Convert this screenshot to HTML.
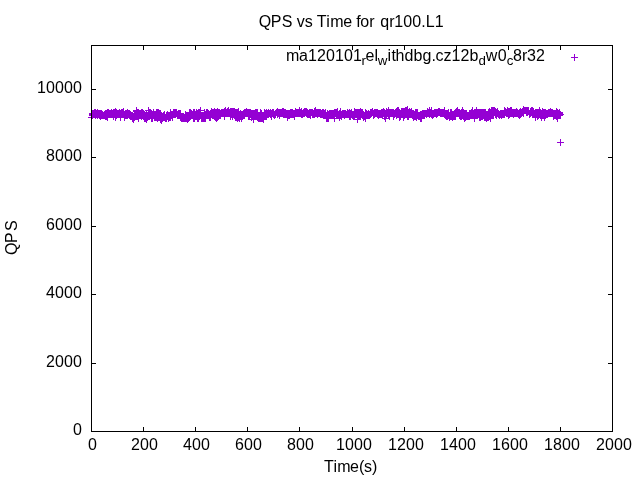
<!DOCTYPE html>
<html lang="en"><head><meta charset="utf-8"><title>QPS vs Time for qr100.L1</title>
<style>
html,body{margin:0;padding:0;background:#fff;}
body{width:640px;height:480px;overflow:hidden;}
svg{display:block;}
text{font-family:"Liberation Sans",Arial,sans-serif;font-size:16px;fill:#000;}
.sub{font-size:13.3px;}
</style></head><body>
<svg width="640" height="480" viewBox="0 0 640 480">
<rect width="640" height="480" fill="#fff"/>
<g>
<text x="73" y="435">0</text>
<text x="46 55 64 73" y="367">2000</text>
<text x="46 55 64 73" y="298">4000</text>
<text x="46 55 64 73" y="230">6000</text>
<text x="46 55 64 73" y="161">8000</text>
<text x="37 46 55 64 73" y="93">10000</text>
<text x="88" y="450">0</text>
<text x="131 140 149" y="450">200</text>
<text x="183 192 201" y="450">400</text>
<text x="235 244 253" y="450">600</text>
<text x="287 296 305" y="450">800</text>
<text x="336 345 354 363" y="450">1000</text>
<text x="388 397 406 415" y="450">1200</text>
<text x="440 449 458 467" y="450">1400</text>
<text x="492 501 510 519" y="450">1600</text>
<text x="544 553 562 571" y="450">1800</text>
<text x="596 605 614 623" y="450">2000</text>
<text x="258.75 270.75 281.75 292.75 296.75 304.75 312.75 316.75 326.15 330.15 343.15 352.15 356.15 360.15 369.15 374.75 380.25 389.25 394.25 403.25 412.25 421.25 425.75 434.75" y="27">QPS vs Time for qr100.L1</text>
<text x="324 333.55 337.3 350 359 364 371.9" y="472">Time(s)</text>
<text transform="translate(16.5,237.5) rotate(-90)" x="-17.5 -5.5 6.5" y="0">QPS</text>
</g>
<text><tspan x="286 299 308 317 326 335 344 353" y="61">ma120101</tspan><tspan class="sub" x="361.6" y="65.15">r</tspan><tspan x="365.6 374.6" y="61">el</tspan><tspan class="sub" x="377.8" y="65.15">w</tspan><tspan x="387.5 391.5 395.5 404.5 413.5 422.5 431.5 435.5 443.5 451.5 460.5 469.5" y="61">ithdbg.cz12b</tspan><tspan class="sub" x="478.6" y="65.15">d</tspan><tspan x="485.7 497.7" y="61">w0</tspan><tspan class="sub" x="506.7" y="65.15">c</tspan><tspan x="513 522 527 536" y="61">8r32</tspan></text>
<path d="M88,117.5h7M91.5,114v7M88,117.5h7M91.5,114v7M89,114.5h7M92.5,111v7M89,115.5h7M92.5,112v7M89,113.5h7M92.5,110v7M89,114.5h7M92.5,111v7M90,114.5h7M93.5,111v7M90,113.5h7M93.5,110v7M90,113.5h7M93.5,110v7M90,114.5h7M93.5,111v7M91,113.5h7M94.5,110v7M91,113.5h7M94.5,110v7M91,113.5h7M94.5,110v7M91,112.5h7M94.5,109v7M92,112.5h7M95.5,109v7M92,113.5h7M95.5,110v7M92,115.5h7M95.5,112v7M92,113.5h7M95.5,110v7M93,113.5h7M96.5,110v7M93,113.5h7M96.5,110v7M93,114.5h7M96.5,111v7M93,114.5h7M96.5,111v7M94,112.5h7M97.5,109v7M94,115.5h7M97.5,112v7M94,115.5h7M97.5,112v7M95,113.5h7M98.5,110v7M95,114.5h7M98.5,111v7M95,113.5h7M98.5,110v7M95,114.5h7M98.5,111v7M96,115.5h7M99.5,112v7M96,113.5h7M99.5,110v7M96,114.5h7M99.5,111v7M96,115.5h7M99.5,112v7M97,116.5h7M100.5,113v7M97,113.5h7M100.5,110v7M97,113.5h7M100.5,110v7M97,116.5h7M100.5,113v7M98,114.5h7M101.5,111v7M98,115.5h7M101.5,112v7M98,114.5h7M101.5,111v7M98,113.5h7M101.5,110v7M99,115.5h7M102.5,112v7M99,115.5h7M102.5,112v7M99,114.5h7M102.5,111v7M99,115.5h7M102.5,112v7M100,115.5h7M103.5,112v7M100,115.5h7M103.5,112v7M100,115.5h7M103.5,112v7M101,114.5h7M104.5,111v7M101,114.5h7M104.5,111v7M101,115.5h7M104.5,112v7M101,114.5h7M104.5,111v7M102,114.5h7M105.5,111v7M102,113.5h7M105.5,110v7M102,116.5h7M105.5,113v7M102,116.5h7M105.5,113v7M103,115.5h7M106.5,112v7M103,113.5h7M106.5,110v7M103,116.5h7M106.5,113v7M103,115.5h7M106.5,112v7M104,113.5h7M107.5,110v7M104,112.5h7M107.5,109v7M104,115.5h7M107.5,112v7M104,117.5h7M107.5,114v7M105,114.5h7M108.5,111v7M105,113.5h7M108.5,110v7M105,112.5h7M108.5,109v7M105,114.5h7M108.5,111v7M106,114.5h7M109.5,111v7M106,114.5h7M109.5,111v7M106,113.5h7M109.5,110v7M106,113.5h7M109.5,110v7M107,114.5h7M110.5,111v7M107,113.5h7M110.5,110v7M107,114.5h7M110.5,111v7M108,114.5h7M111.5,111v7M108,112.5h7M111.5,109v7M108,113.5h7M111.5,110v7M108,112.5h7M111.5,109v7M109,114.5h7M112.5,111v7M109,113.5h7M112.5,110v7M109,114.5h7M112.5,111v7M109,114.5h7M112.5,111v7M110,112.5h7M113.5,109v7M110,112.5h7M113.5,109v7M110,116.5h7M113.5,113v7M110,115.5h7M113.5,112v7M111,113.5h7M114.5,110v7M111,112.5h7M114.5,109v7M111,114.5h7M114.5,111v7M111,112.5h7M114.5,109v7M112,111.5h7M115.5,108v7M112,112.5h7M115.5,109v7M112,117.5h7M115.5,114v7M112,112.5h7M115.5,109v7M113,113.5h7M116.5,110v7M113,115.5h7M116.5,112v7M113,112.5h7M116.5,109v7M114,113.5h7M117.5,110v7M114,114.5h7M117.5,111v7M114,114.5h7M117.5,111v7M114,113.5h7M117.5,110v7M115,114.5h7M118.5,111v7M115,113.5h7M118.5,110v7M115,114.5h7M118.5,111v7M115,114.5h7M118.5,111v7M116,114.5h7M119.5,111v7M116,114.5h7M119.5,111v7M116,112.5h7M119.5,109v7M116,113.5h7M119.5,110v7M117,116.5h7M120.5,113v7M117,116.5h7M120.5,113v7M117,113.5h7M120.5,110v7M117,117.5h7M120.5,114v7M118,112.5h7M121.5,109v7M118,113.5h7M121.5,110v7M118,112.5h7M121.5,109v7M118,112.5h7M121.5,109v7M119,114.5h7M122.5,111v7M119,112.5h7M122.5,109v7M119,113.5h7M122.5,110v7M120,113.5h7M123.5,110v7M120,114.5h7M123.5,111v7M120,113.5h7M123.5,110v7M120,111.5h7M123.5,108v7M121,117.5h7M124.5,114v7M121,116.5h7M124.5,113v7M121,114.5h7M124.5,111v7M121,117.5h7M124.5,114v7M122,113.5h7M125.5,110v7M122,114.5h7M125.5,111v7M122,114.5h7M125.5,111v7M122,115.5h7M125.5,112v7M123,115.5h7M126.5,112v7M123,115.5h7M126.5,112v7M123,113.5h7M126.5,110v7M123,115.5h7M126.5,112v7M124,114.5h7M127.5,111v7M124,112.5h7M127.5,109v7M124,115.5h7M127.5,112v7M124,114.5h7M127.5,111v7M125,113.5h7M128.5,110v7M125,114.5h7M128.5,111v7M125,114.5h7M128.5,111v7M126,113.5h7M129.5,110v7M126,115.5h7M129.5,112v7M126,114.5h7M129.5,111v7M126,115.5h7M129.5,112v7M127,114.5h7M130.5,111v7M127,115.5h7M130.5,112v7M127,115.5h7M130.5,112v7M127,114.5h7M130.5,111v7M128,115.5h7M131.5,112v7M128,115.5h7M131.5,112v7M128,115.5h7M131.5,112v7M128,116.5h7M131.5,113v7M129,118.5h7M132.5,115v7M129,115.5h7M132.5,112v7M129,117.5h7M132.5,114v7M129,118.5h7M132.5,115v7M130,116.5h7M133.5,113v7M130,118.5h7M133.5,115v7M130,119.5h7M133.5,116v7M130,119.5h7M133.5,116v7M131,116.5h7M134.5,113v7M131,116.5h7M134.5,113v7M131,117.5h7M134.5,114v7M132,115.5h7M135.5,112v7M132,114.5h7M135.5,111v7M132,115.5h7M135.5,112v7M132,113.5h7M135.5,110v7M133,111.5h7M136.5,108v7M133,116.5h7M136.5,113v7M133,110.5h7M136.5,107v7M133,115.5h7M136.5,112v7M134,113.5h7M137.5,110v7M134,116.5h7M137.5,113v7M134,116.5h7M137.5,113v7M134,112.5h7M137.5,109v7M135,118.5h7M138.5,115v7M135,112.5h7M138.5,109v7M135,117.5h7M138.5,114v7M135,114.5h7M138.5,111v7M136,115.5h7M139.5,112v7M136,114.5h7M139.5,111v7M136,114.5h7M139.5,111v7M136,115.5h7M139.5,112v7M137,114.5h7M140.5,111v7M137,113.5h7M140.5,110v7M137,114.5h7M140.5,111v7M137,114.5h7M140.5,111v7M138,115.5h7M141.5,112v7M138,116.5h7M141.5,113v7M138,112.5h7M141.5,109v7M139,115.5h7M142.5,112v7M139,114.5h7M142.5,111v7M139,114.5h7M142.5,111v7M139,112.5h7M142.5,109v7M140,115.5h7M143.5,112v7M140,113.5h7M143.5,110v7M140,114.5h7M143.5,111v7M140,113.5h7M143.5,110v7M141,115.5h7M144.5,112v7M141,118.5h7M144.5,115v7M141,115.5h7M144.5,112v7M141,114.5h7M144.5,111v7M142,117.5h7M145.5,114v7M142,117.5h7M145.5,114v7M142,118.5h7M145.5,115v7M142,116.5h7M145.5,113v7M143,119.5h7M146.5,116v7M143,118.5h7M146.5,115v7M143,114.5h7M146.5,111v7M143,119.5h7M146.5,116v7M144,115.5h7M147.5,112v7M144,117.5h7M147.5,114v7M144,115.5h7M147.5,112v7M145,112.5h7M148.5,109v7M145,110.5h7M148.5,107v7M145,114.5h7M148.5,111v7M145,112.5h7M148.5,109v7M146,112.5h7M149.5,109v7M146,116.5h7M149.5,113v7M146,112.5h7M149.5,109v7M146,115.5h7M149.5,112v7M147,115.5h7M150.5,112v7M147,112.5h7M150.5,109v7M147,112.5h7M150.5,109v7M147,115.5h7M150.5,112v7M148,118.5h7M151.5,115v7M148,113.5h7M151.5,110v7M148,117.5h7M151.5,114v7M148,113.5h7M151.5,110v7M149,118.5h7M152.5,115v7M149,114.5h7M152.5,111v7M149,116.5h7M152.5,113v7M149,118.5h7M152.5,115v7M150,115.5h7M153.5,112v7M150,112.5h7M153.5,109v7M150,114.5h7M153.5,111v7M151,114.5h7M154.5,111v7M151,117.5h7M154.5,114v7M151,115.5h7M154.5,112v7M151,117.5h7M154.5,114v7M152,114.5h7M155.5,111v7M152,117.5h7M155.5,114v7M152,114.5h7M155.5,111v7M152,117.5h7M155.5,114v7M153,112.5h7M156.5,109v7M153,117.5h7M156.5,114v7M153,114.5h7M156.5,111v7M153,114.5h7M156.5,111v7M154,117.5h7M157.5,114v7M154,112.5h7M157.5,109v7M154,116.5h7M157.5,113v7M154,118.5h7M157.5,115v7M155,112.5h7M158.5,109v7M155,114.5h7M158.5,111v7M155,117.5h7M158.5,114v7M155,115.5h7M158.5,112v7M156,114.5h7M159.5,111v7M156,114.5h7M159.5,111v7M156,113.5h7M159.5,110v7M157,115.5h7M160.5,112v7M157,118.5h7M160.5,115v7M157,113.5h7M160.5,110v7M157,119.5h7M160.5,116v7M158,118.5h7M161.5,115v7M158,118.5h7M161.5,115v7M158,120.5h7M161.5,117v7M158,117.5h7M161.5,114v7M159,116.5h7M162.5,113v7M159,116.5h7M162.5,113v7M159,118.5h7M162.5,115v7M159,117.5h7M162.5,114v7M160,117.5h7M163.5,114v7M160,115.5h7M163.5,112v7M160,116.5h7M163.5,113v7M160,115.5h7M163.5,112v7M161,116.5h7M164.5,113v7M161,115.5h7M164.5,112v7M161,114.5h7M164.5,111v7M161,117.5h7M164.5,114v7M162,117.5h7M165.5,114v7M162,118.5h7M165.5,115v7M162,117.5h7M165.5,114v7M163,115.5h7M166.5,112v7M163,115.5h7M166.5,112v7M163,118.5h7M166.5,115v7M163,116.5h7M166.5,113v7M164,115.5h7M167.5,112v7M164,116.5h7M167.5,113v7M164,114.5h7M167.5,111v7M164,115.5h7M167.5,112v7M165,118.5h7M168.5,115v7M165,117.5h7M168.5,114v7M165,118.5h7M168.5,115v7M165,118.5h7M168.5,115v7M166,117.5h7M169.5,114v7M166,116.5h7M169.5,113v7M166,116.5h7M169.5,113v7M166,115.5h7M169.5,112v7M167,113.5h7M170.5,110v7M167,112.5h7M170.5,109v7M167,113.5h7M170.5,110v7M167,117.5h7M170.5,114v7M168,115.5h7M171.5,112v7M168,114.5h7M171.5,111v7M168,115.5h7M171.5,112v7M168,114.5h7M171.5,111v7M169,117.5h7M172.5,114v7M169,115.5h7M172.5,112v7M169,114.5h7M172.5,111v7M170,112.5h7M173.5,109v7M170,113.5h7M173.5,110v7M170,113.5h7M173.5,110v7M170,114.5h7M173.5,111v7M171,112.5h7M174.5,109v7M171,114.5h7M174.5,111v7M171,112.5h7M174.5,109v7M171,114.5h7M174.5,111v7M172,114.5h7M175.5,111v7M172,113.5h7M175.5,110v7M172,112.5h7M175.5,109v7M172,112.5h7M175.5,109v7M173,112.5h7M176.5,109v7M173,112.5h7M176.5,109v7M173,113.5h7M176.5,110v7M173,112.5h7M176.5,109v7M174,115.5h7M177.5,112v7M174,114.5h7M177.5,111v7M174,114.5h7M177.5,111v7M174,114.5h7M177.5,111v7M175,115.5h7M178.5,112v7M175,114.5h7M178.5,111v7M175,113.5h7M178.5,110v7M176,115.5h7M179.5,112v7M176,113.5h7M179.5,110v7M176,113.5h7M179.5,110v7M176,115.5h7M179.5,112v7M177,114.5h7M180.5,111v7M177,117.5h7M180.5,114v7M177,116.5h7M180.5,113v7M177,113.5h7M180.5,110v7M178,118.5h7M181.5,115v7M178,118.5h7M181.5,115v7M178,118.5h7M181.5,115v7M178,117.5h7M181.5,114v7M179,116.5h7M182.5,113v7M179,117.5h7M182.5,114v7M179,118.5h7M182.5,115v7M179,118.5h7M182.5,115v7M180,117.5h7M183.5,114v7M180,117.5h7M183.5,114v7M180,116.5h7M183.5,113v7M180,118.5h7M183.5,115v7M181,118.5h7M184.5,115v7M181,118.5h7M184.5,115v7M181,117.5h7M184.5,114v7M182,118.5h7M185.5,115v7M182,114.5h7M185.5,111v7M182,117.5h7M185.5,114v7M182,116.5h7M185.5,113v7M183,116.5h7M186.5,113v7M183,118.5h7M186.5,115v7M183,117.5h7M186.5,114v7M183,118.5h7M186.5,115v7M184,119.5h7M187.5,116v7M184,119.5h7M187.5,116v7M184,115.5h7M187.5,112v7M184,118.5h7M187.5,115v7M185,118.5h7M188.5,115v7M185,115.5h7M188.5,112v7M185,115.5h7M188.5,112v7M185,115.5h7M188.5,112v7M186,112.5h7M189.5,109v7M186,117.5h7M189.5,114v7M186,112.5h7M189.5,109v7M186,114.5h7M189.5,111v7M187,112.5h7M190.5,109v7M187,113.5h7M190.5,110v7M187,113.5h7M190.5,110v7M188,113.5h7M191.5,110v7M188,115.5h7M191.5,112v7M188,115.5h7M191.5,112v7M188,114.5h7M191.5,111v7M189,115.5h7M192.5,112v7M189,114.5h7M192.5,111v7M189,114.5h7M192.5,111v7M189,114.5h7M192.5,111v7M190,112.5h7M193.5,109v7M190,112.5h7M193.5,109v7M190,118.5h7M193.5,115v7M190,118.5h7M193.5,115v7M191,115.5h7M194.5,112v7M191,118.5h7M194.5,115v7M191,112.5h7M194.5,109v7M191,116.5h7M194.5,113v7M192,115.5h7M195.5,112v7M192,116.5h7M195.5,113v7M192,114.5h7M195.5,111v7M192,115.5h7M195.5,112v7M193,116.5h7M196.5,113v7M193,115.5h7M196.5,112v7M193,112.5h7M196.5,109v7M194,113.5h7M197.5,110v7M194,117.5h7M197.5,114v7M194,114.5h7M197.5,111v7M194,118.5h7M197.5,115v7M195,117.5h7M198.5,114v7M195,114.5h7M198.5,111v7M195,118.5h7M198.5,115v7M195,112.5h7M198.5,109v7M196,113.5h7M199.5,110v7M196,113.5h7M199.5,110v7M196,112.5h7M199.5,109v7M196,116.5h7M199.5,113v7M197,110.5h7M200.5,107v7M197,115.5h7M200.5,112v7M197,110.5h7M200.5,107v7M197,112.5h7M200.5,109v7M198,117.5h7M201.5,114v7M198,117.5h7M201.5,114v7M198,118.5h7M201.5,115v7M198,118.5h7M201.5,115v7M199,118.5h7M202.5,115v7M199,118.5h7M202.5,115v7M199,118.5h7M202.5,115v7M199,118.5h7M202.5,115v7M200,118.5h7M203.5,115v7M200,115.5h7M203.5,112v7M200,118.5h7M203.5,115v7M201,116.5h7M204.5,113v7M201,117.5h7M204.5,114v7M201,112.5h7M204.5,109v7M201,118.5h7M204.5,115v7M202,117.5h7M205.5,114v7M202,118.5h7M205.5,115v7M202,118.5h7M205.5,115v7M202,114.5h7M205.5,111v7M203,112.5h7M206.5,109v7M203,113.5h7M206.5,110v7M203,114.5h7M206.5,111v7M203,115.5h7M206.5,112v7M204,112.5h7M207.5,109v7M204,112.5h7M207.5,109v7M204,114.5h7M207.5,111v7M204,115.5h7M207.5,112v7M205,114.5h7M208.5,111v7M205,113.5h7M208.5,110v7M205,113.5h7M208.5,110v7M205,113.5h7M208.5,110v7M206,114.5h7M209.5,111v7M206,115.5h7M209.5,112v7M206,117.5h7M209.5,114v7M207,115.5h7M210.5,112v7M207,116.5h7M210.5,113v7M207,113.5h7M210.5,110v7M207,117.5h7M210.5,114v7M208,112.5h7M211.5,109v7M208,112.5h7M211.5,109v7M208,114.5h7M211.5,111v7M208,111.5h7M211.5,108v7M209,113.5h7M212.5,110v7M209,112.5h7M212.5,109v7M209,115.5h7M212.5,112v7M209,113.5h7M212.5,110v7M210,114.5h7M213.5,111v7M210,113.5h7M213.5,110v7M210,112.5h7M213.5,109v7M210,112.5h7M213.5,109v7M211,112.5h7M214.5,109v7M211,116.5h7M214.5,113v7M211,116.5h7M214.5,113v7M211,111.5h7M214.5,108v7M212,117.5h7M215.5,114v7M212,116.5h7M215.5,113v7M212,112.5h7M215.5,109v7M213,112.5h7M216.5,109v7M213,114.5h7M216.5,111v7M213,118.5h7M216.5,115v7M213,118.5h7M216.5,115v7M214,117.5h7M217.5,114v7M214,115.5h7M217.5,112v7M214,115.5h7M217.5,112v7M214,111.5h7M217.5,108v7M215,115.5h7M218.5,112v7M215,114.5h7M218.5,111v7M215,112.5h7M218.5,109v7M215,116.5h7M218.5,113v7M216,113.5h7M219.5,110v7M216,113.5h7M219.5,110v7M216,113.5h7M219.5,110v7M216,112.5h7M219.5,109v7M217,115.5h7M220.5,112v7M217,114.5h7M220.5,111v7M217,113.5h7M220.5,110v7M217,113.5h7M220.5,110v7M218,112.5h7M221.5,109v7M218,113.5h7M221.5,110v7M218,113.5h7M221.5,110v7M219,112.5h7M222.5,109v7M219,113.5h7M222.5,110v7M219,112.5h7M222.5,109v7M219,112.5h7M222.5,109v7M220,113.5h7M223.5,110v7M220,112.5h7M223.5,109v7M220,112.5h7M223.5,109v7M220,113.5h7M223.5,110v7M221,116.5h7M224.5,113v7M221,111.5h7M224.5,108v7M221,111.5h7M224.5,108v7M221,112.5h7M224.5,109v7M222,111.5h7M225.5,108v7M222,110.5h7M225.5,107v7M222,112.5h7M225.5,109v7M222,113.5h7M225.5,110v7M223,113.5h7M226.5,110v7M223,113.5h7M226.5,110v7M223,113.5h7M226.5,110v7M223,112.5h7M226.5,109v7M224,112.5h7M227.5,109v7M224,111.5h7M227.5,108v7M224,112.5h7M227.5,109v7M225,110.5h7M228.5,107v7M225,111.5h7M228.5,108v7M225,110.5h7M228.5,107v7M225,112.5h7M228.5,109v7M226,112.5h7M229.5,109v7M226,113.5h7M229.5,110v7M226,112.5h7M229.5,109v7M226,113.5h7M229.5,110v7M227,111.5h7M230.5,108v7M227,113.5h7M230.5,110v7M227,116.5h7M230.5,113v7M227,111.5h7M230.5,108v7M228,111.5h7M231.5,108v7M228,114.5h7M231.5,111v7M228,113.5h7M231.5,110v7M228,112.5h7M231.5,109v7M229,114.5h7M232.5,111v7M229,115.5h7M232.5,112v7M229,111.5h7M232.5,108v7M229,116.5h7M232.5,113v7M230,111.5h7M233.5,108v7M230,114.5h7M233.5,111v7M230,112.5h7M233.5,109v7M230,113.5h7M233.5,110v7M231,113.5h7M234.5,110v7M231,114.5h7M234.5,111v7M231,111.5h7M234.5,108v7M232,115.5h7M235.5,112v7M232,117.5h7M235.5,114v7M232,114.5h7M235.5,111v7M232,112.5h7M235.5,109v7M233,117.5h7M236.5,114v7M233,117.5h7M236.5,114v7M233,112.5h7M236.5,109v7M233,117.5h7M236.5,114v7M234,114.5h7M237.5,111v7M234,112.5h7M237.5,109v7M234,118.5h7M237.5,115v7M234,115.5h7M237.5,112v7M235,117.5h7M238.5,114v7M235,117.5h7M238.5,114v7M235,111.5h7M238.5,108v7M235,112.5h7M238.5,109v7M236,116.5h7M239.5,113v7M236,115.5h7M239.5,112v7M236,117.5h7M239.5,114v7M236,118.5h7M239.5,115v7M237,115.5h7M240.5,112v7M237,113.5h7M240.5,110v7M237,116.5h7M240.5,113v7M238,117.5h7M241.5,114v7M238,116.5h7M241.5,113v7M238,117.5h7M241.5,114v7M238,118.5h7M241.5,115v7M239,114.5h7M242.5,111v7M239,114.5h7M242.5,111v7M239,116.5h7M242.5,113v7M239,116.5h7M242.5,113v7M240,115.5h7M243.5,112v7M240,115.5h7M243.5,112v7M240,113.5h7M243.5,110v7M240,113.5h7M243.5,110v7M241,112.5h7M244.5,109v7M241,113.5h7M244.5,110v7M241,114.5h7M244.5,111v7M241,115.5h7M244.5,112v7M242,113.5h7M245.5,110v7M242,112.5h7M245.5,109v7M242,113.5h7M245.5,110v7M242,113.5h7M245.5,110v7M243,111.5h7M246.5,108v7M243,112.5h7M246.5,109v7M243,113.5h7M246.5,110v7M244,113.5h7M247.5,110v7M244,112.5h7M247.5,109v7M244,112.5h7M247.5,109v7M244,113.5h7M247.5,110v7M245,116.5h7M248.5,113v7M245,116.5h7M248.5,113v7M245,112.5h7M248.5,109v7M245,116.5h7M248.5,113v7M246,116.5h7M249.5,113v7M246,115.5h7M249.5,112v7M246,116.5h7M249.5,113v7M246,112.5h7M249.5,109v7M247,114.5h7M250.5,111v7M247,112.5h7M250.5,109v7M247,113.5h7M250.5,110v7M247,112.5h7M250.5,109v7M248,113.5h7M251.5,110v7M248,117.5h7M251.5,114v7M248,117.5h7M251.5,114v7M248,116.5h7M251.5,113v7M249,115.5h7M252.5,112v7M249,115.5h7M252.5,112v7M249,113.5h7M252.5,110v7M250,114.5h7M253.5,111v7M250,113.5h7M253.5,110v7M250,117.5h7M253.5,114v7M250,119.5h7M253.5,116v7M251,114.5h7M254.5,111v7M251,113.5h7M254.5,110v7M251,116.5h7M254.5,113v7M251,116.5h7M254.5,113v7M252,112.5h7M255.5,109v7M252,116.5h7M255.5,113v7M252,116.5h7M255.5,113v7M252,115.5h7M255.5,112v7M253,116.5h7M256.5,113v7M253,116.5h7M256.5,113v7M253,112.5h7M256.5,109v7M253,115.5h7M256.5,112v7M254,117.5h7M257.5,114v7M254,116.5h7M257.5,113v7M254,116.5h7M257.5,113v7M254,112.5h7M257.5,109v7M255,116.5h7M258.5,113v7M255,118.5h7M258.5,115v7M255,117.5h7M258.5,114v7M256,117.5h7M259.5,114v7M256,116.5h7M259.5,113v7M256,118.5h7M259.5,115v7M256,118.5h7M259.5,115v7M257,118.5h7M260.5,115v7M257,117.5h7M260.5,114v7M257,112.5h7M260.5,109v7M257,113.5h7M260.5,110v7M258,113.5h7M261.5,110v7M258,118.5h7M261.5,115v7M258,116.5h7M261.5,113v7M258,114.5h7M261.5,111v7M259,118.5h7M262.5,115v7M259,115.5h7M262.5,112v7M259,115.5h7M262.5,112v7M259,115.5h7M262.5,112v7M260,119.5h7M263.5,116v7M260,119.5h7M263.5,116v7M260,116.5h7M263.5,113v7M260,118.5h7M263.5,115v7M261,115.5h7M264.5,112v7M261,112.5h7M264.5,109v7M261,114.5h7M264.5,111v7M261,113.5h7M264.5,110v7M262,116.5h7M265.5,113v7M262,113.5h7M265.5,110v7M262,115.5h7M265.5,112v7M263,112.5h7M266.5,109v7M263,116.5h7M266.5,113v7M263,116.5h7M266.5,113v7M263,112.5h7M266.5,109v7M264,114.5h7M267.5,111v7M264,114.5h7M267.5,111v7M264,114.5h7M267.5,111v7M264,113.5h7M267.5,110v7M265,113.5h7M268.5,110v7M265,114.5h7M268.5,111v7M265,113.5h7M268.5,110v7M265,112.5h7M268.5,109v7M266,113.5h7M269.5,110v7M266,113.5h7M269.5,110v7M266,113.5h7M269.5,110v7M266,113.5h7M269.5,110v7M267,113.5h7M270.5,110v7M267,114.5h7M270.5,111v7M267,113.5h7M270.5,110v7M267,112.5h7M270.5,109v7M268,113.5h7M271.5,110v7M268,116.5h7M271.5,113v7M268,115.5h7M271.5,112v7M269,112.5h7M272.5,109v7M269,113.5h7M272.5,110v7M269,112.5h7M272.5,109v7M269,113.5h7M272.5,110v7M270,114.5h7M273.5,111v7M270,112.5h7M273.5,109v7M270,113.5h7M273.5,110v7M270,113.5h7M273.5,110v7M271,114.5h7M274.5,111v7M271,114.5h7M274.5,111v7M271,114.5h7M274.5,111v7M271,115.5h7M274.5,112v7M272,114.5h7M275.5,111v7M272,113.5h7M275.5,110v7M272,113.5h7M275.5,110v7M272,114.5h7M275.5,111v7M273,112.5h7M276.5,109v7M273,112.5h7M276.5,109v7M273,112.5h7M276.5,109v7M273,112.5h7M276.5,109v7M274,114.5h7M277.5,111v7M274,111.5h7M277.5,108v7M274,113.5h7M277.5,110v7M275,112.5h7M278.5,109v7M275,112.5h7M278.5,109v7M275,112.5h7M278.5,109v7M275,113.5h7M278.5,110v7M276,114.5h7M279.5,111v7M276,112.5h7M279.5,109v7M276,113.5h7M279.5,110v7M276,115.5h7M279.5,112v7M277,113.5h7M280.5,110v7M277,112.5h7M280.5,109v7M277,112.5h7M280.5,109v7M277,112.5h7M280.5,109v7M278,113.5h7M281.5,110v7M278,113.5h7M281.5,110v7M278,112.5h7M281.5,109v7M278,112.5h7M281.5,109v7M279,113.5h7M282.5,110v7M279,113.5h7M282.5,110v7M279,112.5h7M282.5,109v7M279,111.5h7M282.5,108v7M280,114.5h7M283.5,111v7M280,111.5h7M283.5,108v7M280,113.5h7M283.5,110v7M281,112.5h7M284.5,109v7M281,113.5h7M284.5,110v7M281,114.5h7M284.5,111v7M281,112.5h7M284.5,109v7M282,112.5h7M285.5,109v7M282,112.5h7M285.5,109v7M282,113.5h7M285.5,110v7M282,114.5h7M285.5,111v7M283,114.5h7M286.5,111v7M283,113.5h7M286.5,110v7M283,113.5h7M286.5,110v7M283,114.5h7M286.5,111v7M284,117.5h7M287.5,114v7M284,115.5h7M287.5,112v7M284,113.5h7M287.5,110v7M284,115.5h7M287.5,112v7M285,113.5h7M288.5,110v7M285,115.5h7M288.5,112v7M285,114.5h7M288.5,111v7M285,113.5h7M288.5,110v7M286,113.5h7M289.5,110v7M286,113.5h7M289.5,110v7M286,115.5h7M289.5,112v7M287,113.5h7M290.5,110v7M287,113.5h7M290.5,110v7M287,112.5h7M290.5,109v7M287,113.5h7M290.5,110v7M288,112.5h7M291.5,109v7M288,114.5h7M291.5,111v7M288,114.5h7M291.5,111v7M288,113.5h7M291.5,110v7M289,113.5h7M292.5,110v7M289,112.5h7M292.5,109v7M289,114.5h7M292.5,111v7M289,112.5h7M292.5,109v7M290,113.5h7M293.5,110v7M290,113.5h7M293.5,110v7M290,113.5h7M293.5,110v7M290,114.5h7M293.5,111v7M291,116.5h7M294.5,113v7M291,116.5h7M294.5,113v7M291,113.5h7M294.5,110v7M291,113.5h7M294.5,110v7M292,111.5h7M295.5,108v7M292,111.5h7M295.5,108v7M292,113.5h7M295.5,110v7M292,113.5h7M295.5,110v7M293,113.5h7M296.5,110v7M293,113.5h7M296.5,110v7M293,112.5h7M296.5,109v7M294,113.5h7M297.5,110v7M294,112.5h7M297.5,109v7M294,113.5h7M297.5,110v7M294,113.5h7M297.5,110v7M295,112.5h7M298.5,109v7M295,113.5h7M298.5,110v7M295,113.5h7M298.5,110v7M295,113.5h7M298.5,110v7M296,112.5h7M299.5,109v7M296,110.5h7M299.5,107v7M296,113.5h7M299.5,110v7M296,113.5h7M299.5,110v7M297,112.5h7M300.5,109v7M297,113.5h7M300.5,110v7M297,112.5h7M300.5,109v7M297,112.5h7M300.5,109v7M298,112.5h7M301.5,109v7M298,111.5h7M301.5,108v7M298,114.5h7M301.5,111v7M298,114.5h7M301.5,111v7M299,113.5h7M302.5,110v7M299,114.5h7M302.5,111v7M299,114.5h7M302.5,111v7M300,113.5h7M303.5,110v7M300,112.5h7M303.5,109v7M300,113.5h7M303.5,110v7M300,113.5h7M303.5,110v7M301,113.5h7M304.5,110v7M301,112.5h7M304.5,109v7M301,111.5h7M304.5,108v7M301,112.5h7M304.5,109v7M302,112.5h7M305.5,109v7M302,112.5h7M305.5,109v7M302,111.5h7M305.5,108v7M302,112.5h7M305.5,109v7M303,111.5h7M306.5,108v7M303,112.5h7M306.5,109v7M303,111.5h7M306.5,108v7M303,113.5h7M306.5,110v7M304,112.5h7M307.5,109v7M304,113.5h7M307.5,110v7M304,114.5h7M307.5,111v7M304,113.5h7M307.5,110v7M305,113.5h7M308.5,110v7M305,114.5h7M308.5,111v7M305,114.5h7M308.5,111v7M306,112.5h7M309.5,109v7M306,114.5h7M309.5,111v7M306,113.5h7M309.5,110v7M306,113.5h7M309.5,110v7M307,112.5h7M310.5,109v7M307,115.5h7M310.5,112v7M307,115.5h7M310.5,112v7M307,113.5h7M310.5,110v7M308,112.5h7M311.5,109v7M308,112.5h7M311.5,109v7M308,112.5h7M311.5,109v7M308,112.5h7M311.5,109v7M309,114.5h7M312.5,111v7M309,113.5h7M312.5,110v7M309,112.5h7M312.5,109v7M309,113.5h7M312.5,110v7M310,114.5h7M313.5,111v7M310,114.5h7M313.5,111v7M310,113.5h7M313.5,110v7M310,113.5h7M313.5,110v7M311,112.5h7M314.5,109v7M311,111.5h7M314.5,108v7M311,114.5h7M314.5,111v7M312,112.5h7M315.5,109v7M312,110.5h7M315.5,107v7M312,111.5h7M315.5,108v7M312,113.5h7M315.5,110v7M313,113.5h7M316.5,110v7M313,113.5h7M316.5,110v7M313,112.5h7M316.5,109v7M313,112.5h7M316.5,109v7M314,113.5h7M317.5,110v7M314,112.5h7M317.5,109v7M314,114.5h7M317.5,111v7M314,112.5h7M317.5,109v7M315,113.5h7M318.5,110v7M315,112.5h7M318.5,109v7M315,113.5h7M318.5,110v7M315,113.5h7M318.5,110v7M316,113.5h7M319.5,110v7M316,112.5h7M319.5,109v7M316,113.5h7M319.5,110v7M316,113.5h7M319.5,110v7M317,113.5h7M320.5,110v7M317,114.5h7M320.5,111v7M317,112.5h7M320.5,109v7M318,114.5h7M321.5,111v7M318,113.5h7M321.5,110v7M318,113.5h7M321.5,110v7M318,113.5h7M321.5,110v7M319,112.5h7M322.5,109v7M319,114.5h7M322.5,111v7M319,113.5h7M322.5,110v7M319,112.5h7M322.5,109v7M320,112.5h7M323.5,109v7M320,114.5h7M323.5,111v7M320,113.5h7M323.5,110v7M320,114.5h7M323.5,111v7M321,113.5h7M324.5,110v7M321,113.5h7M324.5,110v7M321,115.5h7M324.5,112v7M321,115.5h7M324.5,112v7M322,115.5h7M325.5,112v7M322,114.5h7M325.5,111v7M322,113.5h7M325.5,110v7M322,112.5h7M325.5,109v7M323,117.5h7M326.5,114v7M323,118.5h7M326.5,115v7M323,118.5h7M326.5,115v7M323,118.5h7M326.5,115v7M324,118.5h7M327.5,115v7M324,113.5h7M327.5,110v7M324,115.5h7M327.5,112v7M325,117.5h7M328.5,114v7M325,118.5h7M328.5,115v7M325,115.5h7M328.5,112v7M325,114.5h7M328.5,111v7M326,114.5h7M329.5,111v7M326,114.5h7M329.5,111v7M326,115.5h7M329.5,112v7M326,113.5h7M329.5,110v7M327,114.5h7M330.5,111v7M327,115.5h7M330.5,112v7M327,113.5h7M330.5,110v7M327,113.5h7M330.5,110v7M328,114.5h7M331.5,111v7M328,113.5h7M331.5,110v7M328,114.5h7M331.5,111v7M328,114.5h7M331.5,111v7M329,114.5h7M332.5,111v7M329,114.5h7M332.5,111v7M329,114.5h7M332.5,111v7M329,113.5h7M332.5,110v7M330,115.5h7M333.5,112v7M330,113.5h7M333.5,110v7M330,115.5h7M333.5,112v7M331,115.5h7M334.5,112v7M331,116.5h7M334.5,113v7M331,118.5h7M334.5,115v7M331,112.5h7M334.5,109v7M332,113.5h7M335.5,110v7M332,113.5h7M335.5,110v7M332,112.5h7M335.5,109v7M332,113.5h7M335.5,110v7M333,113.5h7M336.5,110v7M333,114.5h7M336.5,111v7M333,114.5h7M336.5,111v7M333,112.5h7M336.5,109v7M334,112.5h7M337.5,109v7M334,111.5h7M337.5,108v7M334,114.5h7M337.5,111v7M334,112.5h7M337.5,109v7M335,115.5h7M338.5,112v7M335,115.5h7M338.5,112v7M335,114.5h7M338.5,111v7M335,115.5h7M338.5,112v7M336,116.5h7M339.5,113v7M336,113.5h7M339.5,110v7M336,117.5h7M339.5,114v7M337,111.5h7M340.5,108v7M337,112.5h7M340.5,109v7M337,115.5h7M340.5,112v7M337,112.5h7M340.5,109v7M338,115.5h7M341.5,112v7M338,116.5h7M341.5,113v7M338,116.5h7M341.5,113v7M338,115.5h7M341.5,112v7M339,114.5h7M342.5,111v7M339,114.5h7M342.5,111v7M339,113.5h7M342.5,110v7M339,113.5h7M342.5,110v7M340,113.5h7M343.5,110v7M340,114.5h7M343.5,111v7M340,113.5h7M343.5,110v7M340,114.5h7M343.5,111v7M341,113.5h7M344.5,110v7M341,114.5h7M344.5,111v7M341,113.5h7M344.5,110v7M341,115.5h7M344.5,112v7M342,114.5h7M345.5,111v7M342,113.5h7M345.5,110v7M342,113.5h7M345.5,110v7M343,114.5h7M346.5,111v7M343,114.5h7M346.5,111v7M343,114.5h7M346.5,111v7M343,114.5h7M346.5,111v7M344,113.5h7M347.5,110v7M344,112.5h7M347.5,109v7M344,112.5h7M347.5,109v7M344,114.5h7M347.5,111v7M345,113.5h7M348.5,110v7M345,114.5h7M348.5,111v7M345,114.5h7M348.5,111v7M345,113.5h7M348.5,110v7M346,116.5h7M349.5,113v7M346,115.5h7M349.5,112v7M346,115.5h7M349.5,112v7M346,112.5h7M349.5,109v7M347,116.5h7M350.5,113v7M347,113.5h7M350.5,110v7M347,116.5h7M350.5,113v7M347,114.5h7M350.5,111v7M348,114.5h7M351.5,111v7M348,114.5h7M351.5,111v7M348,112.5h7M351.5,109v7M349,114.5h7M352.5,111v7M349,115.5h7M352.5,112v7M349,115.5h7M352.5,112v7M349,115.5h7M352.5,112v7M350,116.5h7M353.5,113v7M350,114.5h7M353.5,111v7M350,116.5h7M353.5,113v7M350,116.5h7M353.5,113v7M351,113.5h7M354.5,110v7M351,111.5h7M354.5,108v7M351,113.5h7M354.5,110v7M351,115.5h7M354.5,112v7M352,114.5h7M355.5,111v7M352,112.5h7M355.5,109v7M352,113.5h7M355.5,110v7M352,114.5h7M355.5,111v7M353,112.5h7M356.5,109v7M353,113.5h7M356.5,110v7M353,113.5h7M356.5,110v7M353,112.5h7M356.5,109v7M354,112.5h7M357.5,109v7M354,119.5h7M357.5,116v7M354,116.5h7M357.5,113v7M354,117.5h7M357.5,114v7M355,112.5h7M358.5,109v7M355,115.5h7M358.5,112v7M355,116.5h7M358.5,113v7M356,115.5h7M359.5,112v7M356,116.5h7M359.5,113v7M356,114.5h7M359.5,111v7M356,112.5h7M359.5,109v7M357,113.5h7M360.5,110v7M357,111.5h7M360.5,108v7M357,113.5h7M360.5,110v7M357,116.5h7M360.5,113v7M358,113.5h7M361.5,110v7M358,113.5h7M361.5,110v7M358,112.5h7M361.5,109v7M358,113.5h7M361.5,110v7M359,113.5h7M362.5,110v7M359,112.5h7M362.5,109v7M359,114.5h7M362.5,111v7M359,112.5h7M362.5,109v7M360,117.5h7M363.5,114v7M360,114.5h7M363.5,111v7M360,117.5h7M363.5,114v7M360,116.5h7M363.5,113v7M361,115.5h7M364.5,112v7M361,115.5h7M364.5,112v7M361,116.5h7M364.5,113v7M362,118.5h7M365.5,115v7M362,114.5h7M365.5,111v7M362,117.5h7M365.5,114v7M362,112.5h7M365.5,109v7M363,115.5h7M366.5,112v7M363,114.5h7M366.5,111v7M363,115.5h7M366.5,112v7M363,113.5h7M366.5,110v7M364,115.5h7M367.5,112v7M364,114.5h7M367.5,111v7M364,114.5h7M367.5,111v7M364,114.5h7M367.5,111v7M365,113.5h7M368.5,110v7M365,114.5h7M368.5,111v7M365,115.5h7M368.5,112v7M365,115.5h7M368.5,112v7M366,114.5h7M369.5,111v7M366,114.5h7M369.5,111v7M366,114.5h7M369.5,111v7M366,115.5h7M369.5,112v7M367,114.5h7M370.5,111v7M367,113.5h7M370.5,110v7M367,112.5h7M370.5,109v7M368,112.5h7M371.5,109v7M368,113.5h7M371.5,110v7M368,113.5h7M371.5,110v7M368,112.5h7M371.5,109v7M369,111.5h7M372.5,108v7M369,111.5h7M372.5,108v7M369,112.5h7M372.5,109v7M369,112.5h7M372.5,109v7M370,115.5h7M373.5,112v7M370,114.5h7M373.5,111v7M370,113.5h7M373.5,110v7M370,113.5h7M373.5,110v7M371,114.5h7M374.5,111v7M371,113.5h7M374.5,110v7M371,113.5h7M374.5,110v7M371,112.5h7M374.5,109v7M372,113.5h7M375.5,110v7M372,112.5h7M375.5,109v7M372,113.5h7M375.5,110v7M372,113.5h7M375.5,110v7M373,113.5h7M376.5,110v7M373,112.5h7M376.5,109v7M373,113.5h7M376.5,110v7M374,112.5h7M377.5,109v7M374,113.5h7M377.5,110v7M374,112.5h7M377.5,109v7M374,114.5h7M377.5,111v7M375,113.5h7M378.5,110v7M375,115.5h7M378.5,112v7M375,114.5h7M378.5,111v7M375,115.5h7M378.5,112v7M376,113.5h7M379.5,110v7M376,114.5h7M379.5,111v7M376,114.5h7M379.5,111v7M376,113.5h7M379.5,110v7M377,113.5h7M380.5,110v7M377,114.5h7M380.5,111v7M377,113.5h7M380.5,110v7M377,114.5h7M380.5,111v7M378,114.5h7M381.5,111v7M378,113.5h7M381.5,110v7M378,114.5h7M381.5,111v7M378,112.5h7M381.5,109v7M379,114.5h7M382.5,111v7M379,112.5h7M382.5,109v7M379,115.5h7M382.5,112v7M379,113.5h7M382.5,110v7M380,111.5h7M383.5,108v7M380,111.5h7M383.5,108v7M380,111.5h7M383.5,108v7M381,112.5h7M384.5,109v7M381,112.5h7M384.5,109v7M381,116.5h7M384.5,113v7M381,113.5h7M384.5,110v7M382,118.5h7M385.5,115v7M382,114.5h7M385.5,111v7M382,118.5h7M385.5,115v7M382,113.5h7M385.5,110v7M383,111.5h7M386.5,108v7M383,115.5h7M386.5,112v7M383,115.5h7M386.5,112v7M383,113.5h7M386.5,110v7M384,112.5h7M387.5,109v7M384,112.5h7M387.5,109v7M384,113.5h7M387.5,110v7M384,112.5h7M387.5,109v7M385,112.5h7M388.5,109v7M385,111.5h7M388.5,108v7M385,110.5h7M388.5,107v7M385,115.5h7M388.5,112v7M386,116.5h7M389.5,113v7M386,113.5h7M389.5,110v7M386,112.5h7M389.5,109v7M387,113.5h7M390.5,110v7M387,112.5h7M390.5,109v7M387,113.5h7M390.5,110v7M387,112.5h7M390.5,109v7M388,112.5h7M391.5,109v7M388,112.5h7M391.5,109v7M388,112.5h7M391.5,109v7M388,112.5h7M391.5,109v7M389,112.5h7M392.5,109v7M389,112.5h7M392.5,109v7M389,113.5h7M392.5,110v7M389,112.5h7M392.5,109v7M390,115.5h7M393.5,112v7M390,116.5h7M393.5,113v7M390,112.5h7M393.5,109v7M390,116.5h7M393.5,113v7M391,113.5h7M394.5,110v7M391,114.5h7M394.5,111v7M391,113.5h7M394.5,110v7M391,113.5h7M394.5,110v7M392,112.5h7M395.5,109v7M392,112.5h7M395.5,109v7M392,112.5h7M395.5,109v7M393,115.5h7M396.5,112v7M393,114.5h7M396.5,111v7M393,112.5h7M396.5,109v7M393,111.5h7M396.5,108v7M394,112.5h7M397.5,109v7M394,111.5h7M397.5,108v7M394,110.5h7M397.5,107v7M394,112.5h7M397.5,109v7M395,114.5h7M398.5,111v7M395,114.5h7M398.5,111v7M395,110.5h7M398.5,107v7M395,113.5h7M398.5,110v7M396,112.5h7M399.5,109v7M396,114.5h7M399.5,111v7M396,117.5h7M399.5,114v7M396,114.5h7M399.5,111v7M397,114.5h7M400.5,111v7M397,116.5h7M400.5,113v7M397,115.5h7M400.5,112v7M397,113.5h7M400.5,110v7M398,114.5h7M401.5,111v7M398,113.5h7M401.5,110v7M398,111.5h7M401.5,108v7M399,112.5h7M402.5,109v7M399,112.5h7M402.5,109v7M399,111.5h7M402.5,108v7M399,112.5h7M402.5,109v7M400,114.5h7M403.5,111v7M400,111.5h7M403.5,108v7M400,117.5h7M403.5,114v7M400,114.5h7M403.5,111v7M401,113.5h7M404.5,110v7M401,114.5h7M404.5,111v7M401,111.5h7M404.5,108v7M401,115.5h7M404.5,112v7M402,111.5h7M405.5,108v7M402,110.5h7M405.5,107v7M402,113.5h7M405.5,110v7M402,113.5h7M405.5,110v7M403,111.5h7M406.5,108v7M403,111.5h7M406.5,108v7M403,113.5h7M406.5,110v7M403,110.5h7M406.5,107v7M404,109.5h7M407.5,106v7M404,116.5h7M407.5,113v7M404,115.5h7M407.5,112v7M405,115.5h7M408.5,112v7M405,116.5h7M408.5,113v7M405,113.5h7M408.5,110v7M405,113.5h7M408.5,110v7M406,111.5h7M409.5,108v7M406,113.5h7M409.5,110v7M406,114.5h7M409.5,111v7M406,112.5h7M409.5,109v7M407,112.5h7M410.5,109v7M407,113.5h7M410.5,110v7M407,113.5h7M410.5,110v7M407,113.5h7M410.5,110v7M408,112.5h7M411.5,109v7M408,111.5h7M411.5,108v7M408,113.5h7M411.5,110v7M408,113.5h7M411.5,110v7M409,114.5h7M412.5,111v7M409,114.5h7M412.5,111v7M409,113.5h7M412.5,110v7M409,115.5h7M412.5,112v7M410,117.5h7M413.5,114v7M410,113.5h7M413.5,110v7M410,117.5h7M413.5,114v7M410,116.5h7M413.5,113v7M411,116.5h7M414.5,113v7M411,114.5h7M414.5,111v7M411,115.5h7M414.5,112v7M412,115.5h7M415.5,112v7M412,113.5h7M415.5,110v7M412,116.5h7M415.5,113v7M412,112.5h7M415.5,109v7M413,112.5h7M416.5,109v7M413,115.5h7M416.5,112v7M413,116.5h7M416.5,113v7M413,117.5h7M416.5,114v7M414,114.5h7M417.5,111v7M414,112.5h7M417.5,109v7M414,115.5h7M417.5,112v7M414,112.5h7M417.5,109v7M415,116.5h7M418.5,113v7M415,115.5h7M418.5,112v7M415,115.5h7M418.5,112v7M415,115.5h7M418.5,112v7M416,116.5h7M419.5,113v7M416,115.5h7M419.5,112v7M416,115.5h7M419.5,112v7M416,115.5h7M419.5,112v7M417,118.5h7M420.5,115v7M417,114.5h7M420.5,111v7M417,118.5h7M420.5,115v7M418,114.5h7M421.5,111v7M418,114.5h7M421.5,111v7M418,115.5h7M421.5,112v7M418,118.5h7M421.5,115v7M419,114.5h7M422.5,111v7M419,113.5h7M422.5,110v7M419,113.5h7M422.5,110v7M419,115.5h7M422.5,112v7M420,114.5h7M423.5,111v7M420,115.5h7M423.5,112v7M420,113.5h7M423.5,110v7M420,113.5h7M423.5,110v7M421,115.5h7M424.5,112v7M421,115.5h7M424.5,112v7M421,114.5h7M424.5,111v7M421,113.5h7M424.5,110v7M422,113.5h7M425.5,110v7M422,113.5h7M425.5,110v7M422,113.5h7M425.5,110v7M422,113.5h7M425.5,110v7M423,114.5h7M426.5,111v7M423,114.5h7M426.5,111v7M423,113.5h7M426.5,110v7M424,112.5h7M427.5,109v7M424,111.5h7M427.5,108v7M424,113.5h7M427.5,110v7M424,111.5h7M427.5,108v7M425,112.5h7M428.5,109v7M425,113.5h7M428.5,110v7M425,113.5h7M428.5,110v7M425,112.5h7M428.5,109v7M426,114.5h7M429.5,111v7M426,110.5h7M429.5,107v7M426,113.5h7M429.5,110v7M426,113.5h7M429.5,110v7M427,112.5h7M430.5,109v7M427,113.5h7M430.5,110v7M427,112.5h7M430.5,109v7M427,112.5h7M430.5,109v7M428,110.5h7M431.5,107v7M428,114.5h7M431.5,111v7M428,114.5h7M431.5,111v7M428,114.5h7M431.5,111v7M429,115.5h7M432.5,112v7M429,114.5h7M432.5,111v7M429,115.5h7M432.5,112v7M430,113.5h7M433.5,110v7M430,114.5h7M433.5,111v7M430,114.5h7M433.5,111v7M430,114.5h7M433.5,111v7M431,112.5h7M434.5,109v7M431,113.5h7M434.5,110v7M431,112.5h7M434.5,109v7M431,113.5h7M434.5,110v7M432,112.5h7M435.5,109v7M432,112.5h7M435.5,109v7M432,113.5h7M435.5,110v7M432,112.5h7M435.5,109v7M433,113.5h7M436.5,110v7M433,114.5h7M436.5,111v7M433,112.5h7M436.5,109v7M433,114.5h7M436.5,111v7M434,113.5h7M437.5,110v7M434,113.5h7M437.5,110v7M434,112.5h7M437.5,109v7M434,113.5h7M437.5,110v7M435,111.5h7M438.5,108v7M435,112.5h7M438.5,109v7M435,111.5h7M438.5,108v7M436,112.5h7M439.5,109v7M436,112.5h7M439.5,109v7M436,112.5h7M439.5,109v7M436,111.5h7M439.5,108v7M437,112.5h7M440.5,109v7M437,113.5h7M440.5,110v7M437,113.5h7M440.5,110v7M437,113.5h7M440.5,110v7M438,112.5h7M441.5,109v7M438,112.5h7M441.5,109v7M438,113.5h7M441.5,110v7M438,112.5h7M441.5,109v7M439,113.5h7M442.5,110v7M439,113.5h7M442.5,110v7M439,113.5h7M442.5,110v7M439,112.5h7M442.5,109v7M440,112.5h7M443.5,109v7M440,112.5h7M443.5,109v7M440,112.5h7M443.5,109v7M440,113.5h7M443.5,110v7M441,114.5h7M444.5,111v7M441,111.5h7M444.5,108v7M441,110.5h7M444.5,107v7M441,112.5h7M444.5,109v7M442,114.5h7M445.5,111v7M442,115.5h7M445.5,112v7M442,115.5h7M445.5,112v7M443,113.5h7M446.5,110v7M443,116.5h7M446.5,113v7M443,116.5h7M446.5,113v7M443,116.5h7M446.5,113v7M444,116.5h7M447.5,113v7M444,116.5h7M447.5,113v7M444,115.5h7M447.5,112v7M444,115.5h7M447.5,112v7M445,114.5h7M448.5,111v7M445,112.5h7M448.5,109v7M445,112.5h7M448.5,109v7M445,115.5h7M448.5,112v7M446,115.5h7M449.5,112v7M446,117.5h7M449.5,114v7M446,115.5h7M449.5,112v7M446,115.5h7M449.5,112v7M447,113.5h7M450.5,110v7M447,112.5h7M450.5,109v7M447,112.5h7M450.5,109v7M447,116.5h7M450.5,113v7M448,114.5h7M451.5,111v7M448,112.5h7M451.5,109v7M448,116.5h7M451.5,113v7M449,117.5h7M452.5,114v7M449,117.5h7M452.5,114v7M449,114.5h7M452.5,111v7M449,117.5h7M452.5,114v7M450,114.5h7M453.5,111v7M450,116.5h7M453.5,113v7M450,115.5h7M453.5,112v7M450,116.5h7M453.5,113v7M451,115.5h7M454.5,112v7M451,116.5h7M454.5,113v7M451,115.5h7M454.5,112v7M451,113.5h7M454.5,110v7M452,115.5h7M455.5,112v7M452,112.5h7M455.5,109v7M452,116.5h7M455.5,113v7M452,114.5h7M455.5,111v7M453,111.5h7M456.5,108v7M453,112.5h7M456.5,109v7M453,113.5h7M456.5,110v7M453,113.5h7M456.5,110v7M454,111.5h7M457.5,108v7M454,110.5h7M457.5,107v7M454,113.5h7M457.5,110v7M455,113.5h7M458.5,110v7M455,113.5h7M458.5,110v7M455,112.5h7M458.5,109v7M455,113.5h7M458.5,110v7M456,114.5h7M459.5,111v7M456,112.5h7M459.5,109v7M456,115.5h7M459.5,112v7M456,114.5h7M459.5,111v7M457,115.5h7M460.5,112v7M457,116.5h7M460.5,113v7M457,115.5h7M460.5,112v7M457,113.5h7M460.5,110v7M458,116.5h7M461.5,113v7M458,112.5h7M461.5,109v7M458,116.5h7M461.5,113v7M458,116.5h7M461.5,113v7M459,110.5h7M462.5,107v7M459,115.5h7M462.5,112v7M459,111.5h7M462.5,108v7M459,115.5h7M462.5,112v7M460,114.5h7M463.5,111v7M460,116.5h7M463.5,113v7M460,112.5h7M463.5,109v7M461,115.5h7M464.5,112v7M461,116.5h7M464.5,113v7M461,118.5h7M464.5,115v7M461,116.5h7M464.5,113v7M462,114.5h7M465.5,111v7M462,117.5h7M465.5,114v7M462,115.5h7M465.5,112v7M462,114.5h7M465.5,111v7M463,114.5h7M466.5,111v7M463,115.5h7M466.5,112v7M463,113.5h7M466.5,110v7M463,116.5h7M466.5,113v7M464,115.5h7M467.5,112v7M464,116.5h7M467.5,113v7M464,115.5h7M467.5,112v7M464,116.5h7M467.5,113v7M465,116.5h7M468.5,113v7M465,115.5h7M468.5,112v7M465,115.5h7M468.5,112v7M465,115.5h7M468.5,112v7M466,116.5h7M469.5,113v7M466,113.5h7M469.5,110v7M466,116.5h7M469.5,113v7M467,114.5h7M470.5,111v7M467,114.5h7M470.5,111v7M467,115.5h7M470.5,112v7M467,114.5h7M470.5,111v7M468,115.5h7M471.5,112v7M468,115.5h7M471.5,112v7M468,113.5h7M471.5,110v7M468,112.5h7M471.5,109v7M469,115.5h7M472.5,112v7M469,112.5h7M472.5,109v7M469,110.5h7M472.5,107v7M469,114.5h7M472.5,111v7M470,115.5h7M473.5,112v7M470,115.5h7M473.5,112v7M470,115.5h7M473.5,112v7M470,113.5h7M473.5,110v7M471,118.5h7M474.5,115v7M471,118.5h7M474.5,115v7M471,112.5h7M474.5,109v7M471,117.5h7M474.5,114v7M472,114.5h7M475.5,111v7M472,114.5h7M475.5,111v7M472,112.5h7M475.5,109v7M472,113.5h7M475.5,110v7M473,114.5h7M476.5,111v7M473,110.5h7M476.5,107v7M473,115.5h7M476.5,112v7M474,113.5h7M477.5,110v7M474,113.5h7M477.5,110v7M474,114.5h7M477.5,111v7M474,112.5h7M477.5,109v7M475,113.5h7M478.5,110v7M475,113.5h7M478.5,110v7M475,112.5h7M478.5,109v7M475,112.5h7M478.5,109v7M476,117.5h7M479.5,114v7M476,116.5h7M479.5,113v7M476,115.5h7M479.5,112v7M476,112.5h7M479.5,109v7M477,112.5h7M480.5,109v7M477,113.5h7M480.5,110v7M477,117.5h7M480.5,114v7M477,113.5h7M480.5,110v7M478,116.5h7M481.5,113v7M478,115.5h7M481.5,112v7M478,116.5h7M481.5,113v7M478,112.5h7M481.5,109v7M479,116.5h7M482.5,113v7M479,112.5h7M482.5,109v7M479,116.5h7M482.5,113v7M480,114.5h7M483.5,111v7M480,114.5h7M483.5,111v7M480,112.5h7M483.5,109v7M480,114.5h7M483.5,111v7M481,114.5h7M484.5,111v7M481,116.5h7M484.5,113v7M481,112.5h7M484.5,109v7M481,117.5h7M484.5,114v7M482,117.5h7M485.5,114v7M482,112.5h7M485.5,109v7M482,117.5h7M485.5,114v7M482,115.5h7M485.5,112v7M483,117.5h7M486.5,114v7M483,115.5h7M486.5,112v7M483,118.5h7M486.5,115v7M483,117.5h7M486.5,114v7M484,116.5h7M487.5,113v7M484,116.5h7M487.5,113v7M484,116.5h7M487.5,113v7M484,117.5h7M487.5,114v7M485,117.5h7M488.5,114v7M485,112.5h7M488.5,109v7M485,116.5h7M488.5,113v7M486,116.5h7M489.5,113v7M486,114.5h7M489.5,111v7M486,115.5h7M489.5,112v7M486,111.5h7M489.5,108v7M487,116.5h7M490.5,113v7M487,118.5h7M490.5,115v7M487,114.5h7M490.5,111v7M487,112.5h7M490.5,109v7M488,114.5h7M491.5,111v7M488,113.5h7M491.5,110v7M488,110.5h7M491.5,107v7M488,115.5h7M491.5,112v7M489,114.5h7M492.5,111v7M489,113.5h7M492.5,110v7M489,114.5h7M492.5,111v7M489,110.5h7M492.5,107v7M490,115.5h7M493.5,112v7M490,112.5h7M493.5,109v7M490,113.5h7M493.5,110v7M490,110.5h7M493.5,107v7M491,111.5h7M494.5,108v7M491,112.5h7M494.5,109v7M491,110.5h7M494.5,107v7M492,113.5h7M495.5,110v7M492,111.5h7M495.5,108v7M492,114.5h7M495.5,111v7M492,113.5h7M495.5,110v7M493,115.5h7M496.5,112v7M493,113.5h7M496.5,110v7M493,112.5h7M496.5,109v7M493,112.5h7M496.5,109v7M494,113.5h7M497.5,110v7M494,111.5h7M497.5,108v7M494,113.5h7M497.5,110v7M494,112.5h7M497.5,109v7M495,113.5h7M498.5,110v7M495,113.5h7M498.5,110v7M495,113.5h7M498.5,110v7M495,114.5h7M498.5,111v7M496,115.5h7M499.5,112v7M496,115.5h7M499.5,112v7M496,114.5h7M499.5,111v7M496,114.5h7M499.5,111v7M497,114.5h7M500.5,111v7M497,113.5h7M500.5,110v7M497,114.5h7M500.5,111v7M498,113.5h7M501.5,110v7M498,114.5h7M501.5,111v7M498,114.5h7M501.5,111v7M498,115.5h7M501.5,112v7M499,114.5h7M502.5,111v7M499,113.5h7M502.5,110v7M499,114.5h7M502.5,111v7M499,114.5h7M502.5,111v7M500,113.5h7M503.5,110v7M500,114.5h7M503.5,111v7M500,113.5h7M503.5,110v7M500,114.5h7M503.5,111v7M501,114.5h7M504.5,111v7M501,114.5h7M504.5,111v7M501,110.5h7M504.5,107v7M501,114.5h7M504.5,111v7M502,112.5h7M505.5,109v7M502,111.5h7M505.5,108v7M502,112.5h7M505.5,109v7M502,112.5h7M505.5,109v7M503,113.5h7M506.5,110v7M503,112.5h7M506.5,109v7M503,113.5h7M506.5,110v7M503,112.5h7M506.5,109v7M504,113.5h7M507.5,110v7M504,112.5h7M507.5,109v7M504,110.5h7M507.5,107v7M505,115.5h7M508.5,112v7M505,112.5h7M508.5,109v7M505,111.5h7M508.5,108v7M505,113.5h7M508.5,110v7M506,113.5h7M509.5,110v7M506,111.5h7M509.5,108v7M506,111.5h7M509.5,108v7M506,114.5h7M509.5,111v7M507,113.5h7M510.5,110v7M507,113.5h7M510.5,110v7M507,110.5h7M510.5,107v7M507,112.5h7M510.5,109v7M508,113.5h7M511.5,110v7M508,112.5h7M511.5,109v7M508,110.5h7M511.5,107v7M508,110.5h7M511.5,107v7M509,112.5h7M512.5,109v7M509,113.5h7M512.5,110v7M509,112.5h7M512.5,109v7M509,112.5h7M512.5,109v7M510,112.5h7M513.5,109v7M510,114.5h7M513.5,111v7M510,113.5h7M513.5,110v7M511,113.5h7M514.5,110v7M511,112.5h7M514.5,109v7M511,112.5h7M514.5,109v7M511,112.5h7M514.5,109v7M512,113.5h7M515.5,110v7M512,112.5h7M515.5,109v7M512,112.5h7M515.5,109v7M512,112.5h7M515.5,109v7M513,111.5h7M516.5,108v7M513,111.5h7M516.5,108v7M513,112.5h7M516.5,109v7M513,113.5h7M516.5,110v7M514,113.5h7M517.5,110v7M514,112.5h7M517.5,109v7M514,113.5h7M517.5,110v7M514,112.5h7M517.5,109v7M515,113.5h7M518.5,110v7M515,113.5h7M518.5,110v7M515,114.5h7M518.5,111v7M515,113.5h7M518.5,110v7M516,115.5h7M519.5,112v7M516,112.5h7M519.5,109v7M516,113.5h7M519.5,110v7M517,111.5h7M520.5,108v7M517,114.5h7M520.5,111v7M517,113.5h7M520.5,110v7M517,114.5h7M520.5,111v7M518,113.5h7M521.5,110v7M518,113.5h7M521.5,110v7M518,112.5h7M521.5,109v7M518,113.5h7M521.5,110v7M519,111.5h7M522.5,108v7M519,112.5h7M522.5,109v7M519,112.5h7M522.5,109v7M519,112.5h7M522.5,109v7M520,112.5h7M523.5,109v7M520,113.5h7M523.5,110v7M520,109.5h7M523.5,106v7M520,112.5h7M523.5,109v7M521,110.5h7M524.5,107v7M521,110.5h7M524.5,107v7M521,110.5h7M524.5,107v7M521,110.5h7M524.5,107v7M522,110.5h7M525.5,107v7M522,110.5h7M525.5,107v7M522,110.5h7M525.5,107v7M523,112.5h7M526.5,109v7M523,110.5h7M526.5,107v7M523,112.5h7M526.5,109v7M523,112.5h7M526.5,109v7M524,112.5h7M527.5,109v7M524,110.5h7M527.5,107v7M524,112.5h7M527.5,109v7M524,110.5h7M527.5,107v7M525,110.5h7M528.5,107v7M525,110.5h7M528.5,107v7M525,110.5h7M528.5,107v7M525,111.5h7M528.5,108v7M526,113.5h7M529.5,110v7M526,113.5h7M529.5,110v7M526,114.5h7M529.5,111v7M526,114.5h7M529.5,111v7M527,113.5h7M530.5,110v7M527,111.5h7M530.5,108v7M527,112.5h7M530.5,109v7M527,112.5h7M530.5,109v7M528,112.5h7M531.5,109v7M528,110.5h7M531.5,107v7M528,112.5h7M531.5,109v7M529,113.5h7M532.5,110v7M529,110.5h7M532.5,107v7M529,111.5h7M532.5,108v7M529,111.5h7M532.5,108v7M530,114.5h7M533.5,111v7M530,114.5h7M533.5,111v7M530,113.5h7M533.5,110v7M530,111.5h7M533.5,108v7M531,114.5h7M534.5,111v7M531,113.5h7M534.5,110v7M531,114.5h7M534.5,111v7M531,114.5h7M534.5,111v7M532,117.5h7M535.5,114v7M532,113.5h7M535.5,110v7M532,112.5h7M535.5,109v7M532,115.5h7M535.5,112v7M533,113.5h7M536.5,110v7M533,114.5h7M536.5,111v7M533,114.5h7M536.5,111v7M533,112.5h7M536.5,109v7M534,112.5h7M537.5,109v7M534,116.5h7M537.5,113v7M534,116.5h7M537.5,113v7M534,116.5h7M537.5,113v7M535,115.5h7M538.5,112v7M535,112.5h7M538.5,109v7M535,115.5h7M538.5,112v7M536,113.5h7M539.5,110v7M536,113.5h7M539.5,110v7M536,111.5h7M539.5,108v7M536,110.5h7M539.5,107v7M537,112.5h7M540.5,109v7M537,115.5h7M540.5,112v7M537,113.5h7M540.5,110v7M537,113.5h7M540.5,110v7M538,117.5h7M541.5,114v7M538,116.5h7M541.5,113v7M538,115.5h7M541.5,112v7M538,113.5h7M541.5,110v7M539,112.5h7M542.5,109v7M539,114.5h7M542.5,111v7M539,111.5h7M542.5,108v7M539,115.5h7M542.5,112v7M540,115.5h7M543.5,112v7M540,114.5h7M543.5,111v7M540,112.5h7M543.5,109v7M540,114.5h7M543.5,111v7M541,112.5h7M544.5,109v7M541,117.5h7M544.5,114v7M541,116.5h7M544.5,113v7M542,112.5h7M545.5,109v7M542,115.5h7M545.5,112v7M542,115.5h7M545.5,112v7M542,115.5h7M545.5,112v7M543,113.5h7M546.5,110v7M543,114.5h7M546.5,111v7M543,114.5h7M546.5,111v7M543,113.5h7M546.5,110v7M544,113.5h7M547.5,110v7M544,113.5h7M547.5,110v7M544,113.5h7M547.5,110v7M544,113.5h7M547.5,110v7M545,112.5h7M548.5,109v7M545,113.5h7M548.5,110v7M545,113.5h7M548.5,110v7M545,112.5h7M548.5,109v7M546,113.5h7M549.5,110v7M546,112.5h7M549.5,109v7M546,113.5h7M549.5,110v7M546,113.5h7M549.5,110v7M547,111.5h7M550.5,108v7M547,113.5h7M550.5,110v7M547,112.5h7M550.5,109v7M548,112.5h7M551.5,109v7M548,113.5h7M551.5,110v7M548,113.5h7M551.5,110v7M548,112.5h7M551.5,109v7M549,113.5h7M552.5,110v7M549,112.5h7M552.5,109v7M549,113.5h7M552.5,110v7M549,112.5h7M552.5,109v7M550,113.5h7M553.5,110v7M550,116.5h7M553.5,113v7M550,114.5h7M553.5,111v7M550,113.5h7M553.5,110v7M551,113.5h7M554.5,110v7M551,115.5h7M554.5,112v7M551,114.5h7M554.5,111v7M551,114.5h7M554.5,111v7M552,115.5h7M555.5,112v7M552,113.5h7M555.5,110v7M552,114.5h7M555.5,111v7M552,114.5h7M555.5,111v7M553,111.5h7M556.5,108v7M553,116.5h7M556.5,113v7M553,113.5h7M556.5,110v7M554,112.5h7M557.5,109v7M554,118.5h7M557.5,115v7M554,116.5h7M557.5,113v7M554,117.5h7M557.5,114v7M555,113.5h7M558.5,110v7M555,115.5h7M558.5,112v7M555,114.5h7M558.5,111v7M555,114.5h7M558.5,111v7M556,112.5h7M559.5,109v7M556,113.5h7M559.5,110v7M556,115.5h7M559.5,112v7M556,114.5h7M559.5,111v7M557,114.5h7M560.5,111v7M557,142.5h7M560.5,139v7M571,57.5h7M574.5,54v7" stroke="#9400d3" stroke-width="1" fill="none"/>
<g stroke="#000" stroke-width="1" fill="none" shape-rendering="crispEdges">
<path d="M91.5,431.5h4.5M612.5,431.5h-4.5M91.5,363.5h4.5M612.5,363.5h-4.5M91.5,294.5h4.5M612.5,294.5h-4.5M91.5,226.5h4.5M612.5,226.5h-4.5M91.5,157.5h4.5M612.5,157.5h-4.5M91.5,89.5h4.5M612.5,89.5h-4.5M91.5,431.5v-4.5M91.5,45.5v4.5M143.5,431.5v-4.5M143.5,45.5v4.5M195.5,431.5v-4.5M195.5,45.5v4.5M247.5,431.5v-4.5M247.5,45.5v4.5M299.5,431.5v-4.5M299.5,45.5v4.5M352.5,431.5v-4.5M352.5,45.5v4.5M404.5,431.5v-4.5M404.5,45.5v4.5M456.5,431.5v-4.5M456.5,45.5v4.5M508.5,431.5v-4.5M508.5,45.5v4.5M560.5,431.5v-4.5M560.5,45.5v4.5M612.5,431.5v-4.5M612.5,45.5v4.5"/>
<rect x="91.5" y="45.5" width="521.0" height="386.0"/>
</g>
</svg>
</body></html>
